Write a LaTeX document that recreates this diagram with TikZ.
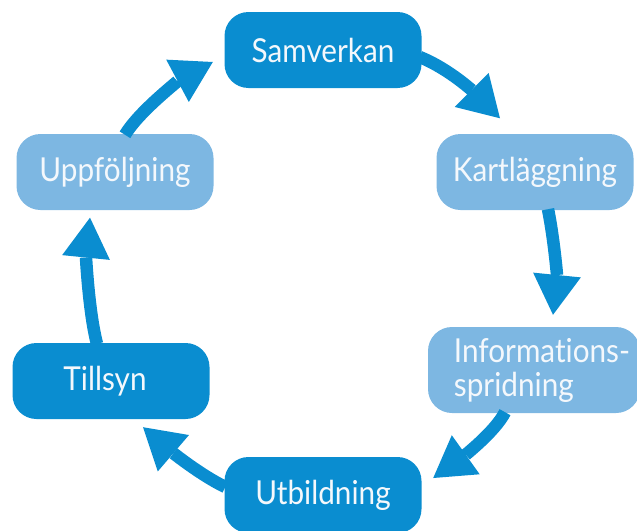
\documentclass[tikz,border=0pt]{standalone}
\usepackage{fontspec}
\setmainfont{Lato}[FakeStretch=0.9, Ligatures=NoCommon]
\usetikzlibrary{arrows.meta,calc}
\definecolor{dblue}{HTML}{0A8DD0}
\definecolor{lblue}{HTML}{7DB7E2}
\definecolor{txt}{HTML}{F4F8FC}
\begin{document}
\begin{tikzpicture}[x=1pt,y=-1pt,
  box/.style={rectangle, rounded corners=24pt, minimum width=197pt, minimum height=76pt,
    text=txt, font=\fontsize{33}{34}\selectfont, inner sep=0pt},
  dbox/.style={box, fill=dblue},
  lbox/.style={box, fill=lblue},
  arr/.style={draw=dblue, line width=12.5pt,
    -{Triangle[length=40pt,width=48pt,line width=0pt]}}]
\useasboundingbox (0,0) rectangle (637,530);
\clip (0,0) rectangle (637,530);
\node[dbox] (sam) at (323,50) {Samverkan};
\node[lbox] (kart) at (535,172) {Kartläggning};
\node[lbox, minimum width=212pt, minimum height=86pt, align=left] (inf) at (534,370) {\hspace*{16pt}Informations-\\\hspace*{16pt}spridning};
\node[dbox] (till) at (111,381) {Tillsyn\hspace*{12pt}};
\node[dbox] (utb) at (323,495) {Utbildning};
\node[lbox] (upp) at (115,172) {Uppföljning};
% connectors
\draw[arr] ([shift={(-2,7)}]sam.east) .. controls +(30,12) and +(-25,-25) .. ([shift={(-35,-15.5)}]kart.north);
\draw[arr] ([shift={(13,-1)}]kart.south) .. controls +(6,30) and +(4,-40) .. ([shift={(19,-12)}]inf.north);
\draw[arr] ([shift={(-29,-1)}]inf.south) .. controls +(-10,20) and +(28,-20) .. ([shift={(11.5,-17)}]utb.east);
\draw[arr] ([shift={(1,-8)}]utb.west) .. controls +(-25,-12) and +(28,24) .. ([shift={(32,8)}]till.south);
\draw[arr] ([shift={(-14,1)}]till.north) .. controls +(-8,-30) and +(-4,40) .. ([shift={(-25,7.5)}]upp.south);
\draw[arr] ([shift={(10,1)}]upp.north) .. controls +(15,-25) and +(-30,16) .. ([shift={(-11.5,12)}]sam.west);
\end{tikzpicture}
\end{document}
